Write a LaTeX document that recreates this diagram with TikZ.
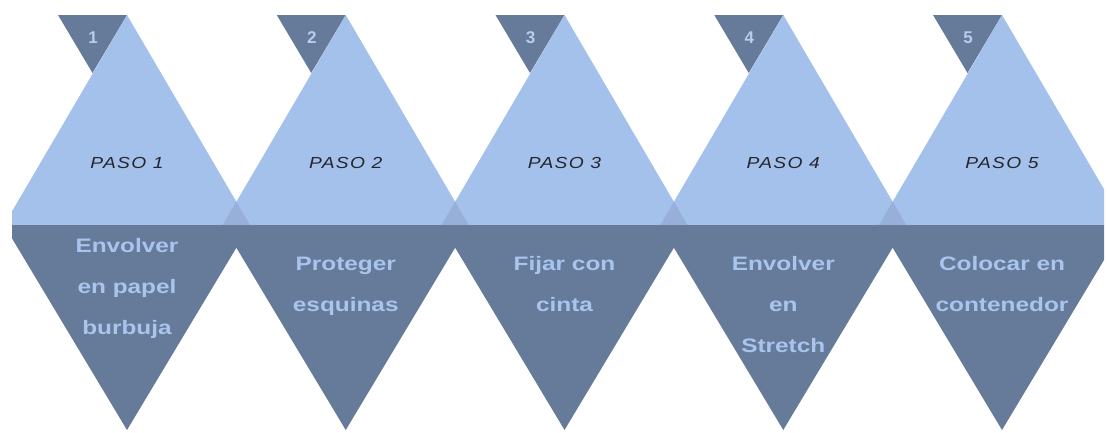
\documentclass[tikz,border=0pt]{standalone}
\usepackage{fontspec}
\setmainfont{Liberation Sans}
\newfontfamily\pasofont[FakeStretch=1.2,LetterSpace=8]{Liberation Sans}
\newfontfamily\stepfont[FakeStretch=1.25]{Liberation Sans}
\definecolor{lightc}{HTML}{A3C1EB}
\definecolor{darkc}{HTML}{667A99}
\definecolor{overc}{HTML}{97B0DA}
\definecolor{txtc}{HTML}{A9C5EE}
\definecolor{pasoc}{HTML}{26262E}
\definecolor{numc}{HTML}{B4CDF0}
\tikzset{
  lowtxt/.style={anchor=base, inner sep=0pt, text=txtc,
    font=\stepfont\fontsize{19.5}{20}\selectfont\bfseries},
  pasotxt/.style={anchor=base, inner sep=0pt, text=pasoc,
    font=\pasofont\fontsize{16}{18}\selectfont\itshape},
  numtxt/.style={anchor=base, inner sep=0pt, text=numc,
    font=\fontsize{17}{18}\selectfont\bfseries},
}
\begin{document}
\begin{tikzpicture}[x=1pt,y=-1pt]
\useasboundingbox (0,0) rectangle (1107,432);
\begin{scope}
\clip (12,0) rectangle (1104,432);
\foreach \i in {0,...,4} {
  \pgfmathsetmacro\cx{127+218.75*\i}
  \fill[darkc] (\cx-69,15) -- (\cx,15) -- (\cx-34.5,73) -- cycle;
  \fill[lightc] (\cx,15) -- (\cx+123,225) -- (\cx-123,225) -- cycle;
}
\foreach \i in {0,...,3} {
  \pgfmathsetmacro\jx{127+218.75*\i+109.375}
  \fill[overc] (\jx,201.7) -- (\jx+13.6,225) -- (\jx-13.6,225) -- cycle;
}
\foreach \i in {0,...,4} {
  \pgfmathsetmacro\cx{127+218.75*\i}
  \fill[darkc] (\cx-123,225) -- (\cx+123,225) -- (\cx,430) -- cycle;
}
\end{scope}
\foreach \i in {0,...,4} {
  \pgfmathsetmacro\cx{127+218.75*\i}
  \pgfmathtruncatemacro\n{\i+1}
  \node[numtxt] (num\n) at (\cx-34,43) {\n};
  \node[pasotxt] (paso\n) at (\cx,168) {PASO \n};
}
\node[lowtxt] (s1a) at (127,252) {Envolver};
\node[lowtxt] (s1b) at (127,293) {en papel};
\node[lowtxt] (s1c) at (127,334) {burbuja};
\node[lowtxt] (s2a) at (345.75,270) {Proteger};
\node[lowtxt] (s2b) at (345.75,311) {esquinas};
\node[lowtxt] (s3a) at (564.5,270) {Fijar con};
\node[lowtxt] (s3b) at (564.5,311) {cinta};
\node[lowtxt] (s4a) at (783.25,270) {Envolver};
\node[lowtxt] (s4b) at (783.25,311) {en};
\node[lowtxt] (s4c) at (783.25,352) {Stretch};
\node[lowtxt] (s5a) at (1002,270) {Colocar en};
\node[lowtxt] (s5b) at (1002,311) {contenedor};
\end{tikzpicture}
\end{document}
